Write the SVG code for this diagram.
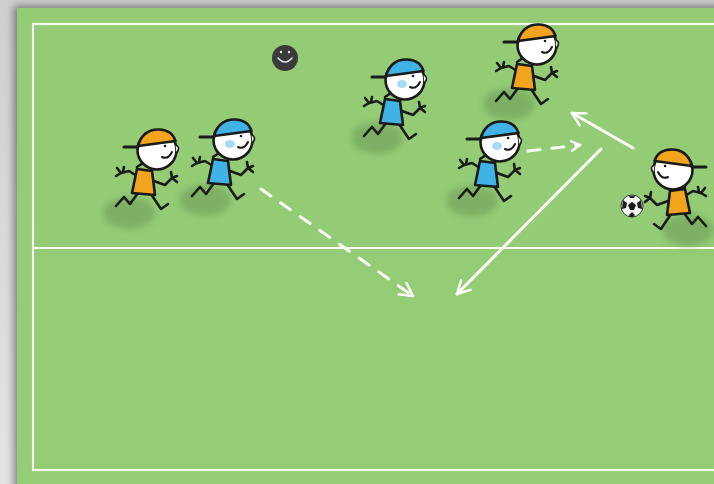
<svg xmlns="http://www.w3.org/2000/svg" width="714" height="484" viewBox="0 0 714 484">
  <defs>
    <linearGradient id="bgTop" x1="0" y1="0" x2="0" y2="1">
      <stop offset="0" stop-color="#cfcfd1"/>
      <stop offset="1" stop-color="#e4e4e6"/>
    </linearGradient>
    <linearGradient id="grass" x1="0" y1="0" x2="0" y2="1">
      <stop offset="0" stop-color="#93cc75"/>
      <stop offset="1" stop-color="#94cd76"/>
    </linearGradient>
    <filter id="edgeShadow" x="-5%" y="-5%" width="110%" height="110%">
      <feGaussianBlur in="SourceAlpha" stdDeviation="4"/>
      <feOffset dx="-3" dy="-2"/>
      <feComponentTransfer><feFuncA type="linear" slope="0.45"/></feComponentTransfer>
      <feMerge><feMergeNode/><feMergeNode in="SourceGraphic"/></feMerge>
    </filter>
    <filter id="soft" x="-50%" y="-50%" width="200%" height="200%">
      <feGaussianBlur stdDeviation="3"/>
    </filter>
    <marker id="open" viewBox="0 0 12 12" refX="10" refY="6" markerWidth="12" markerHeight="12" markerUnits="userSpaceOnUse" orient="auto">
      <path d="M1 1 L10 6 L1 11" fill="none" stroke="#fff" stroke-width="2.2" stroke-linecap="round" stroke-linejoin="round"/>
    </marker>
    <marker id="openBig" viewBox="0 0 16 16" refX="14" refY="8" markerWidth="16" markerHeight="16" markerUnits="userSpaceOnUse" orient="auto">
      <path d="M1 1 L14 8 L1 15" fill="none" stroke="#fff" stroke-width="2.4" stroke-linecap="round" stroke-linejoin="round"/>
    </marker>

    <!-- ground shadow under a runner -->
    <ellipse id="shadow" cx="0" cy="0" rx="26" ry="16" fill="#557d45" opacity="0.35" filter="url(#soft)"/>

    <!-- limbs of a stick figure drawn around the head centre (0,0), facing right -->
    <g id="limbs" fill="none" stroke="#1a1a1a" stroke-width="2.6" stroke-linecap="round" stroke-linejoin="round">
      <!-- legs -->
      <path d="M-19 43 L-27 54 L-33 47 L-41 56"/>
      <path d="M-6 44 L4 59 L11 54"/>
      <!-- arms -->
      <path d="M-20 26 L-28 21 L-36 23"/>
      <path d="M-36 23 L-40 18 M-36 23 L-41 26 M-34 22 L-33 17"/>
      <path d="M-3 31 L8 35 L15 28"/>
      <path d="M15 28 L14 22 M15 28 L20 26 M15 28 L20 32"/>
      <!-- neck hair strand -->
      <path d="M-14 13 L-20 17"/>
    </g>
    <g id="headBase">
      <circle cx="0" cy="0" r="19.5" fill="#fff" stroke="#1a1a1a" stroke-width="2.6"/>
      <path d="M5 7 Q11 10 15 2" fill="none" stroke="#1a1a1a" stroke-width="2" stroke-linecap="round"/>
      <circle cx="8" cy="-4" r="1.3" fill="#1a1a1a"/>
      <path d="M18.5 -5 Q24 -3 19.5 3" fill="#fff" stroke="#1a1a1a" stroke-width="1.6"/>
    </g>
    <path id="body" d="M-20 19 L-5 21 L-2 45 L-25 43 Z"/>
    <path id="capShape" d="M-19 -4 Q-14 -21 2 -20.5 Q15 -20 18.5 -9 Z"/>
  </defs>

  <style>
    .line { fill: none; stroke: #f7fbf2; stroke-width: 2.2; }
    .run { fill: none; stroke: #fbfdf8; stroke-width: 3; stroke-linecap: round; }
    .dash { fill: none; stroke: #fbfdf8; stroke-width: 3; stroke-dasharray: 12 12; stroke-linecap: round; }
    .orange { fill: #f2a51c; }
    .blue { fill: #3fb3e6; }
    .outline { stroke: #1a1a1a; stroke-width: 2.6; stroke-linejoin: round; }
    .strap { stroke: #1a1a1a; stroke-width: 3; stroke-linecap: round; }
    .blush { fill: #8fd3f2; opacity: 0.8; }
  </style>

  <!-- backdrop and pitch -->
  <rect x="0" y="0" width="714" height="484" fill="url(#bgTop)"/>
  <rect x="17" y="8" width="720" height="490" fill="url(#grass)" filter="url(#edgeShadow)"/>

  <!-- pitch markings -->
  <g id="pitch">
    <rect class="line" x="33" y="24" width="700" height="446"/>
    <line class="line" x1="33" y1="248" x2="714" y2="248"/>
  </g>

  <!-- runner shadows -->
  <g id="shadows">
    <use href="#shadow" x="129" y="213"/>
    <use href="#shadow" x="205" y="200"/>
    <use href="#shadow" x="377" y="138"/>
    <use href="#shadow" x="509" y="104"/>
    <use href="#shadow" x="472" y="201"/>
    <use href="#shadow" x="688" y="230"/>
  </g>

  <!-- connectors -->
  <g id="connectors">
    <path class="dash" d="M261 189 L413 296" marker-end="url(#openBig)"/>
    <path class="run" d="M601 149 L457 294" marker-end="url(#openBig)"/>
    <path class="run" d="M633 148 L572 113" marker-end="url(#openBig)"/>
    <path class="dash" d="M528 151 L580 145" stroke-dasharray="10 9" marker-end="url(#open)"/>
  </g>

  <!-- smiley ball -->
  <g id="marker-ball">
    <circle cx="285" cy="58" r="13" fill="#3b3b3d"/>
    <path d="M278 58 Q285 66 292 58" fill="none" stroke="#e8e8e8" stroke-width="1.6" stroke-linecap="round"/>
    <circle cx="281" cy="52" r="1.2" fill="#e8e8e8"/>
    <circle cx="289" cy="52" r="1.2" fill="#e8e8e8"/>
  </g>

  <!-- orange player, left -->
  <g id="player-orange-1" transform="translate(157,150)">
    <use href="#limbs"/>
    <use href="#body" class="orange outline"/>
    <use href="#headBase"/>
    <use href="#capShape" class="orange outline"/>
    <path class="strap" d="M-19 -3 L-33 -3"/>
  </g>

  <!-- blue player, left -->
  <g id="player-blue-1" transform="translate(233,140)">
    <use href="#limbs"/>
    <use href="#body" class="blue outline"/>
    <use href="#headBase"/>
    <ellipse class="blush" cx="-3" cy="4" rx="5" ry="4"/>
    <use href="#capShape" class="blue outline"/>
    <path class="strap" d="M-19 -3 L-33 -3"/>
  </g>

  <!-- blue player, centre -->
  <g id="player-blue-2" transform="translate(405,80)">
    <use href="#limbs"/>
    <use href="#body" class="blue outline"/>
    <use href="#headBase"/>
    <ellipse class="blush" cx="-3" cy="4" rx="5" ry="4"/>
    <use href="#capShape" class="blue outline"/>
    <path class="strap" d="M-19 -3 L-33 -3"/>
  </g>

  <!-- orange player, top -->
  <g id="player-orange-2" transform="translate(537,45)">
    <use href="#limbs"/>
    <use href="#body" class="orange outline"/>
    <use href="#headBase"/>
    <use href="#capShape" class="orange outline"/>
    <path class="strap" d="M-19 -3 L-33 -3"/>
  </g>

  <!-- blue player, right -->
  <g id="player-blue-3" transform="translate(500,142)">
    <use href="#limbs"/>
    <use href="#body" class="blue outline"/>
    <use href="#headBase"/>
    <ellipse class="blush" cx="-3" cy="4" rx="5" ry="4"/>
    <use href="#capShape" class="blue outline"/>
    <path class="strap" d="M-19 -3 L-33 -3"/>
  </g>

  <!-- orange player with the ball, facing left -->
  <g id="player-orange-3" transform="translate(673,170) scale(-1,1)">
    <g transform="translate(8,0)">
      <use href="#limbs"/>
      <use href="#body" class="orange outline"/>
    </g>
    <use href="#headBase"/>
    <use href="#capShape" class="orange outline"/>
    <path class="strap" d="M-19 -3 L-33 -3"/>
  </g>

  <!-- football -->
  <g id="football">
    <circle cx="632" cy="206" r="11" fill="#f4f4f4" stroke="#333" stroke-width="1"/>
    <polygon points="632,202 636,205 634,210 630,210 628,205" fill="#1a1a1a"/>
    <path d="M623 200 L627 203 L626 208 L622 209 Z" fill="#1a1a1a"/>
    <path d="M641 200 L637 203 L638 208 L642 209 Z" fill="#1a1a1a"/>
    <path d="M629 215 L632 212 L635 215 L633 217 L630 217 Z" fill="#1a1a1a"/>
    <path d="M629 196 L635 196 L634 198 L630 198 Z" fill="#1a1a1a"/>
  </g>
</svg>
